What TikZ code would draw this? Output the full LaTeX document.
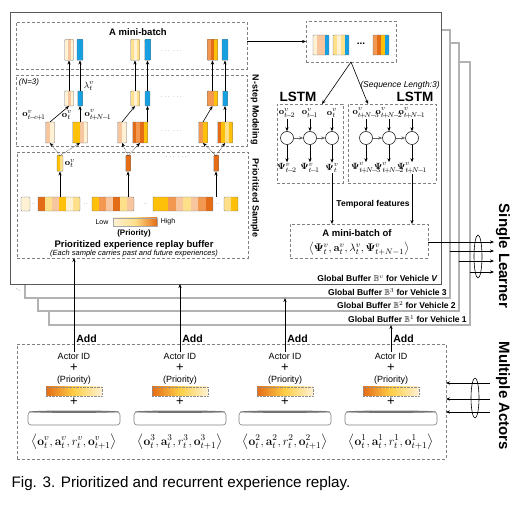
\documentclass[tikz,border=0pt]{standalone}
\usepackage{amsmath,amssymb}
\usepackage[no-math]{fontspec}
\setmainfont{Liberation Sans}
\usetikzlibrary{arrows.meta,positioning}
\definecolor{pcream}{RGB}{255,241,212}
\definecolor{ppeach}{RGB}{248,198,158}
\definecolor{ppale}{RGB}{255,224,138}
\definecolor{pgold}{RGB}{255,192,10}
\definecolor{porange}{RGB}{242,152,80}
\definecolor{pdark}{RGB}{228,108,22}
\definecolor{pblue}{RGB}{22,160,225}
\definecolor{fgray}{RGB}{178,178,178}

% striped sample: name, position, stripes, stripe width, height, colours
\newcommand{\expunit}[6]{%
  \node[smp, minimum width=#3*#4, minimum height=#5] (#1) at (#2) {};
  \foreach \cc [count=\ii] in {#6}
    \fill[\cc] ([xshift=(\ii-1)*#4]#1.south west) rectangle ++(#4,#5);
  \draw[smpedge] (#1.south west) rectangle (#1.north east);
}

\begin{document}
\begin{tikzpicture}[x=1pt, y=-1pt, >={Stealth[length=4pt, width=3.2pt]}, line width=0.6pt,
  smp/.style={rectangle, inner sep=0pt, outer sep=0pt, fill=white},
  smpedge/.style={draw=black!55, line width=0.4pt, rounded corners=0.8pt},
  dbox/.style={draw=black!50, densely dashed, line width=0.5pt, inner sep=0pt, outer sep=0pt, anchor=north west},
  bframe/.style={draw=fgray, line width=1.3pt, fill=white, inner sep=0pt, outer sep=0pt, anchor=north west},
  mframe/.style={draw=black!65, line width=0.9pt, fill=white, inner sep=0pt, outer sep=0pt, anchor=north west},
  ttl/.style={font=\bfseries\fontsize{9.5}{11}\selectfont},
  sidelab/.style={font=\bfseries\fontsize{9}{10}\selectfont, rotate=-90},
  bigside/.style={font=\bfseries\fontsize{15}{17}\selectfont, rotate=-90},
  gbuf/.style={font=\bfseries\fontsize{8.5}{10}\selectfont, anchor=south east, inner sep=1pt},
  ellip/.style={font=\fontsize{6}{7}\selectfont, text=black!60},
  mth/.style={font=\fontsize{9.5}{10}\selectfont, inner sep=0.5pt},
  lcell/.style={circle, draw, line width=0.5pt, minimum size=13pt, inner sep=0pt},
  atext/.style={font=\fontsize{9}{10}\selectfont, inner sep=1pt},
  addlab/.style={font=\bfseries\fontsize{10.5}{12}\selectfont, inner sep=2pt},
  plussign/.style={font=\fontsize{13}{13}\selectfont, inner sep=0pt},
  pbar/.style={draw=black!45, densely dotted, line width=0.4pt, minimum width=56pt, minimum height=9pt, inner sep=0pt,
    left color=pdark, right color=pcream, middle color=pgold!70!pcream},
  diskbox/.style={draw=black!50, fill=white, line width=0.6pt, rounded corners=3pt, minimum width=92pt, minimum height=13pt, inner sep=0pt},
  tup/.style={font=\fontsize{13}{15}\selectfont, inner sep=0pt}]
\useasboundingbox (0,0) rectangle (522,510);

% stacked global buffers
\node[bframe, minimum width=421pt, minimum height=263pt] (f1) at (49,62) {};
\node[bframe, minimum width=421pt, minimum height=268pt] (f2) at (38,43) {};
\node[bframe, minimum width=425pt, minimum height=268pt] (f3) at (25,30) {};
\node[mframe, minimum width=431pt, minimum height=272pt] (fV) at (10,12) {};
\node[gbuf] (g1) at ([xshift=-2pt, yshift=1.5pt]f1.south east) {Global Buffer $\mathbb{B}^1$ for Vehicle 1};
\node[gbuf] (g2) at ([xshift=-2pt, yshift=1.5pt]f2.south east) {Global Buffer $\mathbb{B}^2$ for Vehicle 2};
\node[gbuf] (g3) at ([xshift=-2pt, yshift=1.5pt]f3.south east) {Global Buffer $\mathbb{B}^3$ for Vehicle 3};
\node[gbuf] (gV) at ([xshift=-2pt, yshift=1.5pt]fV.south east) {Global Buffer $\mathbb{B}^v$ for Vehicle \textit{V}};
\node[ellip, rotate=-35] (more) at (18,290) {...};

% left column: mini-batch, N-step, prioritized sample
\node[dbox, minimum width=231pt, minimum height=47pt] (mb) at (16,22) {};
\node[ttl] (mbt) at (138,32) {A mini-batch};
\node[dbox, minimum width=231pt, minimum height=71pt] (ns) at (16,75) {};
\node[dbox, minimum width=231pt, minimum height=106pt] (ps) at (17,152) {};
\node[sidelab] (nsl) at (255,110) {N-step Modeling};
\node[sidelab] (psl) at (255,198) {Prioritized Sample};
\node[font=\itshape\fontsize{8}{9}\selectfont] (nn) at (29,82) {(N=3)};

\expunit{t1a}{69,50}{3}{3pt}{21pt}{pcream,ppeach,pcream}
\expunit{t1b}{80,50}{1}{6pt}{21pt}{pblue}
\expunit{t2a}{135,50}{3}{3pt}{21pt}{ppale,pcream,ppale}
\expunit{t2b}{147.5,50}{1}{6pt}{21pt}{pblue}
\expunit{t3a}{212.5,50}{3}{3.5pt}{21pt}{porange,pdark,pgold}
\expunit{t3b}{225,50}{1}{6pt}{21pt}{pblue}
\node[ellip] (e1) at (172,51) {$\cdots\ \cdots$};

\expunit{m1a}{69,98.5}{3}{3pt}{15pt}{pcream,ppeach,pcream}
\expunit{m1b}{80,98.5}{1}{5pt}{15pt}{pblue}
\expunit{m2a}{135,98.5}{3}{3pt}{15pt}{ppale,pcream,ppale}
\expunit{m2b}{147.5,98.5}{1}{5pt}{15pt}{pblue}
\expunit{m3a}{212.5,98.5}{3}{3.5pt}{15pt}{porange,porange,pgold}
\expunit{m3b}{225,98.5}{1}{5pt}{15pt}{pblue}
\node[ellip] (e2) at (172,97) {$\cdots\ \cdots$};

\expunit{b1a}{50,132.5}{2}{4.5pt}{21pt}{ppeach,pcream}
\expunit{b1b}{80,132.5}{4}{3.75pt}{21pt}{pgold,pgold,ppeach,pcream}
\expunit{b2a}{122,132.5}{2}{4.5pt}{21pt}{ppeach,pcream}
\expunit{b2b}{140,132.5}{4}{3.75pt}{21pt}{pdark,porange,pdark,pgold}
\expunit{b3a}{203,132.5}{2}{4.5pt}{21pt}{porange,pgold}
\expunit{b3b}{225,132.5}{4}{3.75pt}{21pt}{pdark,pgold,ppale,pgold}
\node[ellip] (e3) at (172,131) {$\cdots\ \cdots$};

\node[mth] (ob1) at (34,115) {$\mathbf{o}^v_{t\!-\!c\!+\!1}$};
\node[mth] (ob2) at (67,115) {$\mathbf{o}^v_t$};
\node[mth] (ob3) at (98,115) {$\mathbf{o}^v_{t\!+\!N\!-\!1}$};
\node[mth] (lam) at (89,86) {$\lambda^v_t$};

\foreach \g in {1,2,3}{
  \draw[->] (m\g a) -- (t\g a);
  \draw[->] (m\g b) -- (t\g b);
  \draw[->] (b\g a.north) -- (m\g a.south);
  \draw[->] (m\g b |- b\g b.north) -- (m\g b.south);
}

\expunit{s1}{60,163.5}{2}{3pt}{16pt}{pgold,ppale}
\expunit{s2}{128,163.5}{1}{5pt}{16pt}{pdark}
\expunit{s3}{216,163.5}{1}{5pt}{16pt}{pdark}
\node[mth, right=1pt of s1] (os) {$\mathbf{o}^v_t$};
\node[ellip] (e4) at (177,157) {$\cdots\ \cdots$};

\expunit{q1}{25.5,204}{1}{9pt}{14pt}{pcream}
\expunit{q2}{59,204}{6}{7pt}{14pt}{pdark,ppale,ppeach,pgold,pcream,ppale}
\expunit{q3}{113,204}{6}{7pt}{14pt}{pgold,porange,ppeach,pdark,ppale,ppeach}
\expunit{q4}{183,204}{8}{7.5pt}{14pt}{pgold,pgold,porange,ppeach,ppale,ppeach,porange,pdark}
\expunit{q5}{231,204}{2}{7pt}{14pt}{ppale,pgold}
\foreach \xx [count=\k] in {34,86,146,218}
  \node[ellip] (qd\k) at (\xx,204) {$\cdot\cdot$};

\draw[->] (s1 |- q2.north) -- (s1);
\draw[->] (s2 |- q3.north) -- (s2);
\draw[->] (s3 |- q4.north) -- (s3);
\foreach \g in {1,2,3}{
  \draw[->, densely dotted, line width=0.5pt] (s\g.north) -- (b\g a.south);
  \draw[->, densely dotted, line width=0.5pt] (s\g.north) -- (b\g b.south);
}

\node[font=\fontsize{7}{8}\selectfont] (low) at (102,222) {Low};
\node[draw=black!35, line width=0.4pt, minimum width=44pt, minimum height=8pt, inner sep=0pt,
  left color=pcream, right color=pdark, middle color=ppale] (lg) at (135,222) {};
\node[font=\fontsize{7}{8}\selectfont] (high) at (168,222) {High};
\node[font=\bfseries\fontsize{8}{9}\selectfont] (prio) at (134,233) {(Priority)};
\node[ttl] (pst) at (134,245.5) {Prioritized experience replay buffer};
\node[font=\itshape\fontsize{7.5}{8}\selectfont] (pss) at (134,254) {(Each sample carries past and future experiences)};

% right column: sequences and LSTMs
\node[dbox, minimum width=90pt, minimum height=41pt] (rt) at (306,21) {};
\expunit{r1}{321,45}{4}{4pt}{20pt}{pcream,ppeach,ppeach,pblue}
\expunit{r2}{341,45}{4}{4pt}{20pt}{ppale,pcream,ppale,pblue}
\expunit{r3}{381,45}{4}{4pt}{20pt}{porange,pdark,pgold,pblue}
\node[font=\bfseries] (re) at (361,44) {...};
\draw[->] (rt.west -| mb.east) -- (rt.west);

\node[dbox, minimum width=66pt, minimum height=79pt] (lL) at (277,104) {};
\node[dbox, minimum width=88pt, minimum height=79pt] (lR) at (348,104) {};
\node[font=\bfseries\fontsize{13.5}{15}\selectfont] (lLt) at (298,97) {LSTM};
\node[font=\bfseries\fontsize{13.5}{15}\selectfont] (lRt) at (415,97) {LSTM};
\node[font=\itshape\fontsize{8.5}{10}\selectfont] (seq) at (400,85) {(Sequence Length:3)};
\draw[->] (rt.south) -- ([xshift=12pt]lL.north);
\draw[->] (rt.south) -- ([xshift=-24pt]lR.north);

\foreach \i/\xx/\lab in {1/287/{t\!-\!2}, 2/310/{t\!-\!1}, 3/332/t}{
  \node[mth] (li\i) at (\xx,113) {$\mathbf{o}^v_{\lab}$};
  \node[lcell] (lc\i) at (\xx,138) {};
  \node[mth] (lo\i) at (\xx,168) {$\mathbf{\Psi}^v_{\lab}$};
  \draw[->] (li\i) -- (lc\i);
  \draw[->] (lc\i) -- (lo\i);
}
\foreach \i/\xx/\lab in {1/366/{t\!+\!N\!-\!3}, 2/389/{t\!+\!N\!-\!2}, 3/412/{t\!+\!N\!-\!1}}{
  \node[mth] (ri\i) at (\xx,113) {$\mathbf{o}^v_{\lab}$};
  \node[lcell] (rc\i) at (\xx,138) {};
  \node[mth] (ro\i) at (\xx,168) {$\mathbf{\Psi}^v_{\lab}$};
  \draw[->] (ri\i) -- (rc\i);
  \draw[->] (rc\i) -- (ro\i);
}
\draw[->, line width=0.4pt, black!60] (lc1) -- (lc2);
\draw[->, line width=0.4pt, black!60] (lc2) -- (lc3);
\draw[->, line width=0.4pt, black!60] (rc1) -- (rc2);
\draw[->, line width=0.4pt, black!60] (rc2) -- (rc3);

\node[dbox, minimum width=138pt, minimum height=34pt] (mo) at (290,224) {};
\node[ttl] (mot) at (357,233) {A mini-batch of};
\node[font=\fontsize{11}{13}\selectfont] (mof) at (359,249)
  {$\left\langle \mathbf{\Psi}^v_t, \mathbf{a}^v_t, \lambda^v_t, \mathbf{\Psi}^v_{t+N-1}\right\rangle$};
\draw[->] (lo3) -- (lo3 |- mo.north);
\draw[->] (ro3) -- (ro3 |- mo.north);
\node[font=\bfseries\fontsize{8.5}{10}\selectfont] (tf) at (373,204) {Temporal features};

% to the learner
\coordinate (sl1) at (494,242);
\coordinate (sl2) at (494,251);
\coordinate (sl3) at (494,261);
\coordinate (sl4) at (494,272);
\draw[->] (sl1 -| mo.east) -- (sl1);
\draw[->] (sl2 -| f3.east) -- (sl2);
\draw[->] (sl3 -| f2.east) -- (sl3);
\draw[->] (sl4 -| f1.east) -- (sl4);
\draw (478,256.5) ellipse (4pt and 21.5pt);
\node[bigside] (sln) at (503,256) {Single Learner};

% actors
\node[dbox, minimum width=429pt, minimum height=115pt] (ac) at (17,344) {};
\foreach \i/\xx/\vn/\tgt in {1/74/v/ps, 2/180/3/fV, 3/285/2/f3, 4/391/1/f1}{
  \node[atext] (aid\i) at (\xx,356) {Actor ID};
  \node[plussign] (pa\i) at (\xx,368) {+};
  \node[atext] (pr\i) at (\xx,380) {(Priority)};
  \node[pbar] (pb\i) at (\xx,391.5) {};
  \node[plussign] (pc\i) at (\xx,402) {+};
  \node[diskbox] (dk\i) at (\xx,418.5) {};
  \fill[black!55] (dk\i.north) ellipse (45pt and 1.2pt);
  \node[tup] (tp\i) at (\xx,442)
    {$\left\langle \mathbf{o}^{\vn}_t, \mathbf{a}^{\vn}_t, r^{\vn}_t, \mathbf{o}^{\vn}_{t+1}\right\rangle$};
  \draw[->] (aid\i.north) -- (aid\i |- \tgt.south);
  \path (aid\i.north) ++(0,-13) node[addlab, right] (ad\i) {Add};
}
\coordinate (ma1) at (490,383);
\coordinate (ma2) at (490,399);
\coordinate (ma3) at (490,412);
\foreach \k in {1,2,3}
  \draw[->] (ma\k) -- (ma\k -| ac.east);
\draw (475,398) ellipse (4pt and 20pt);
\node[bigside] (man) at (503,396) {Multiple Actors};

\node[anchor=west, font=\fontsize{15.2}{18}\selectfont] (cap) at (8,484) {Fig. 3. Prioritized and recurrent experience replay.};
\end{tikzpicture}
\end{document}
